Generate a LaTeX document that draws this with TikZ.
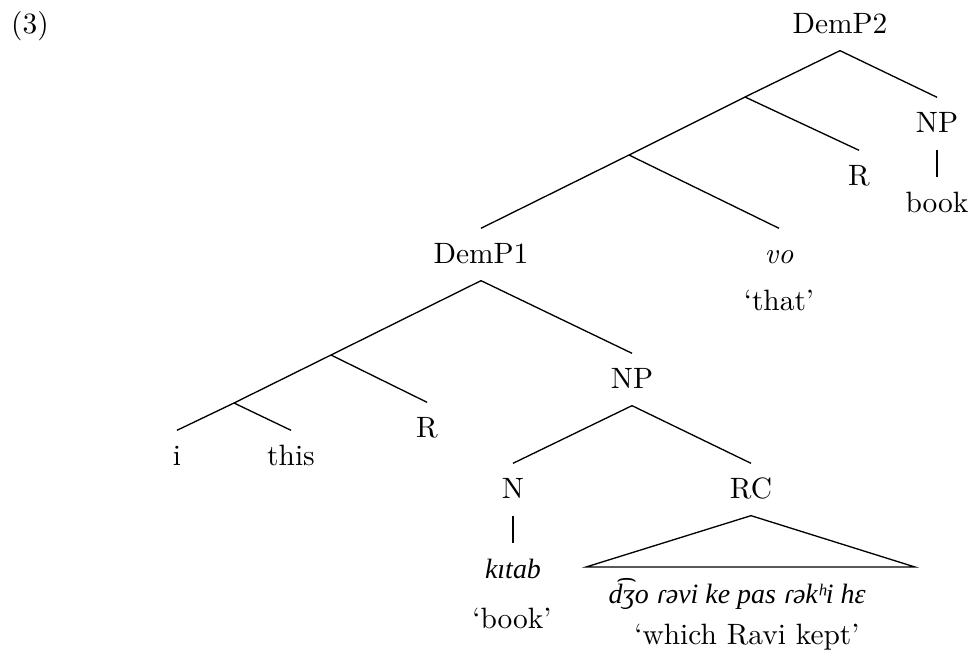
\documentclass[tikz,border=0pt]{standalone}
\usepackage{fontspec}
\newfontfamily\ipafont{Liberation Serif}[Scale=0.95]
\tikzset{
  lbl/.style={inner sep=0pt, text height=11.6pt, text depth=5.8pt, anchor=base},
  gloss/.style={inner sep=0pt, anchor=base},
  branch/.style={line width=0.45pt},
}
\begin{document}
\begin{tikzpicture}[x=0.34pt, y=-0.34pt]
\useasboundingbox (0,0) rectangle (974,662);
% labels
\node[gloss] (ex) at (30,33) {(3)};
\node[lbl] (DemP2) at (840,33) {DemP2};
\node[lbl] (NPb) at (937,132) {NP};
\node[lbl] (bookb) at (937,212) {book};
\node[lbl] (Rb) at (859,185) {R};
\node[lbl] (DemP1) at (481,263) {DemP1};
\node[lbl] (vo) at (779,263) {\itshape vo};
\node[gloss] (that) at (779,310) {‘that’};
\node[lbl] (NPa) at (632,388) {NP};
\node[lbl] (Ra) at (427,437) {R};
\node[lbl] (i) at (177,465) {i};
\node[lbl] (this) at (291,465) {this};
\node[lbl] (N) at (513,498) {N};
\node[lbl] (RC) at (751,498) {RC};
\node[lbl] (kitab) at (513,578) {\ipafont\itshape kıtab};
\node[gloss] (bookg) at (512,628) {‘book’};
\node[lbl] (ipa) at (737,603) {\ipafont\itshape d͡ʒo ɾəvi ke pas ɾəkʰi hɛ};
\node[gloss] (kept) at (747,644) {‘which Ravi kept’};
% junctions
\coordinate (a1) at (745,97);
\coordinate (a2) at (629,155);
\coordinate (b1) at (331,355);
\coordinate (b2) at (234,403);
\coordinate (tl) at (586,567);
\coordinate (tr) at (915,567);
% branches
\draw[branch] (DemP2.south) -- (NPb.north);
\draw[branch] (DemP2.south) -- (a1);
\draw[branch] (NPb.south) -- (bookb.north);
\draw[branch] (a1) -- (Rb.north);
\draw[branch] (a1) -- (a2);
\draw[branch] (a2) -- (DemP1.north);
\draw[branch] (a2) -- (vo.north);
\draw[branch] (DemP1.south) -- (b1);
\draw[branch] (DemP1.south) -- (NPa.north);
\draw[branch] (b1) -- (Ra.north);
\draw[branch] (b1) -- (b2);
\draw[branch] (b2) -- (i.north);
\draw[branch] (b2) -- (this.north);
\draw[branch] (NPa.south) -- (N.north);
\draw[branch] (NPa.south) -- (RC.north);
\draw[branch] (N.south) -- (kitab.north);
\draw[branch] (RC.south) -- (tl) -- (tr) -- cycle;
\end{tikzpicture}
\end{document}
